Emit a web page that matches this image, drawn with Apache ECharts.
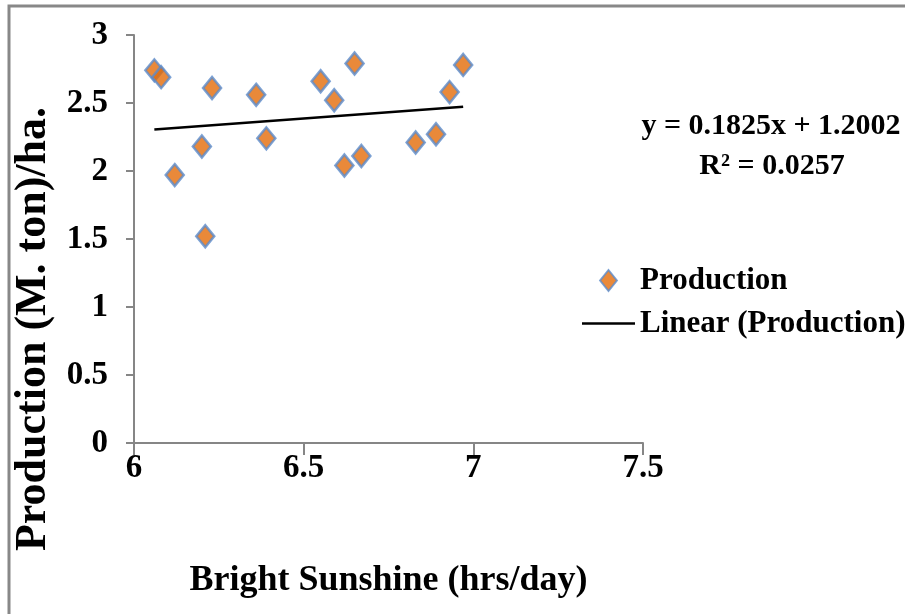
<!DOCTYPE html>
<html>
<head>
<meta charset="utf-8">
<script src="https://cdn.jsdelivr.net/npm/echarts@6/dist/echarts.min.js"></script>
<style>
html,body{margin:0;padding:0;background:#fff;}
#chart{width:905px;height:614px;}
</style>
</head>
<body>
<div id="chart"></div>
<script>
// Data
var sunshine = [6.06, 6.08, 6.12, 6.20, 6.21, 6.23, 6.36, 6.39, 6.55, 6.59, 6.62, 6.65, 6.67, 6.83, 6.89, 6.93, 6.97];
var production = [2.74, 2.69, 1.97, 2.18, 1.52, 2.61, 2.56, 2.24, 2.66, 2.52, 2.04, 2.79, 2.11, 2.21, 2.27, 2.58, 2.78];
var trendX = [6.06, 6.97];
var trendY = [2.306, 2.472];
var xTicks = [6, 6.5, 7, 7.5];
var yTicks = [0, 0.5, 1, 1.5, 2, 2.5, 3];
var equationText = 'y = 0.1825x + 1.2002';
var r2Text = 'R\u00B2 = 0.0257';

var scatterData = sunshine.map(function (x, i) { return [x, production[i]]; });
var trendData = trendX.map(function (x, i) { return [x, trendY[i]]; });

var FONT = 'Liberation Serif';
var chart = echarts.init(document.getElementById('chart'), null, {renderer: 'canvas'});
chart.setOption({
  backgroundColor: '#ffffff',
  animation: false,
  textStyle: {fontFamily: FONT},
  grid: {left: 134, top: 35, width: 509, height: 408, containLabel: false},
  xAxis: {
    type: 'value',
    min: xTicks[0], max: xTicks[xTicks.length - 1], interval: 0.5,
    name: 'Bright Sunshine (hrs/day)',
    nameLocation: 'middle', nameGap: 120,
    nameTextStyle: {fontFamily: FONT, fontWeight: 'bold', fontSize: 36, color: '#000'},
    axisLine: {show: true, onZero: false, lineStyle: {color: '#868686', width: 2}},
    axisTick: {show: true, inside: false, length: 12, lineStyle: {color: '#868686', width: 2}},
    axisLabel: {fontFamily: FONT, fontWeight: 'bold', fontSize: 33, color: '#000', margin: 9,
      formatter: function (v) { return String(v); }},
    splitLine: {show: false}
  },
  yAxis: {
    type: 'value',
    min: yTicks[0], max: yTicks[yTicks.length - 1], interval: 0.5,
    name: 'Production (M. ton)/ha.',
    nameLocation: 'middle', nameGap: 74, nameRotate: 90,
    nameTextStyle: {fontFamily: FONT, fontWeight: 'bold', fontSize: 44, color: '#000',
      padding: [0, 180, 0, 0]},
    axisLine: {show: true, lineStyle: {color: '#868686', width: 2}},
    axisTick: {show: true, inside: false, length: 8, lineStyle: {color: '#868686', width: 2}},
    axisLabel: {fontFamily: FONT, fontWeight: 'bold', fontSize: 33, color: '#000', margin: 26,
      formatter: function (v) { return String(v); }},
    splitLine: {show: false}
  },
  legend: {
    orient: 'vertical',
    left: 577, top: 260,
    itemWidth: 53, itemHeight: 21, itemGap: 12,
    symbolKeepAspect: true,
    textStyle: {fontFamily: FONT, fontWeight: 'bold', fontSize: 31, color: '#000'},
    data: [
      {name: 'Production', icon: 'path://M0,-10L8,0L0,10L-8,0Z'},
      {name: 'Linear (Production)', icon: 'path://M0,0H53V2.5H0Z'}
    ]
  },
  graphic: [
    {type: 'rect', silent: true, z: -1,
      shape: {x: 9, y: 6, width: 1000, height: 700},
      style: {fill: 'none', stroke: '#888888', lineWidth: 3}},
    {type: 'text', silent: true,
      style: {text: equationText, x: 771, y: 126, align: 'center', verticalAlign: 'middle',
        font: 'bold 30px "Liberation Serif"', fill: '#000'}},
    {type: 'text', silent: true,
      style: {text: r2Text, x: 772, y: 166, align: 'center', verticalAlign: 'middle',
        font: 'bold 30px "Liberation Serif"', fill: '#000'}}
  ],
  series: [
    {
      name: 'Production',
      type: 'scatter',
      data: scatterData,
      symbol: 'diamond',
      symbolSize: [18, 22],
      itemStyle: {color: '#E36C09', borderColor: '#5B8BCB', borderWidth: 2.5},
      z: 3
    },
    {
      name: 'Linear (Production)',
      type: 'line',
      data: trendData,
      showSymbol: false,
      symbol: 'none',
      lineStyle: {color: '#000', width: 2.5},
      itemStyle: {color: '#000'},
      z: 2
    }
  ]
});
</script>
</body>
</html>
